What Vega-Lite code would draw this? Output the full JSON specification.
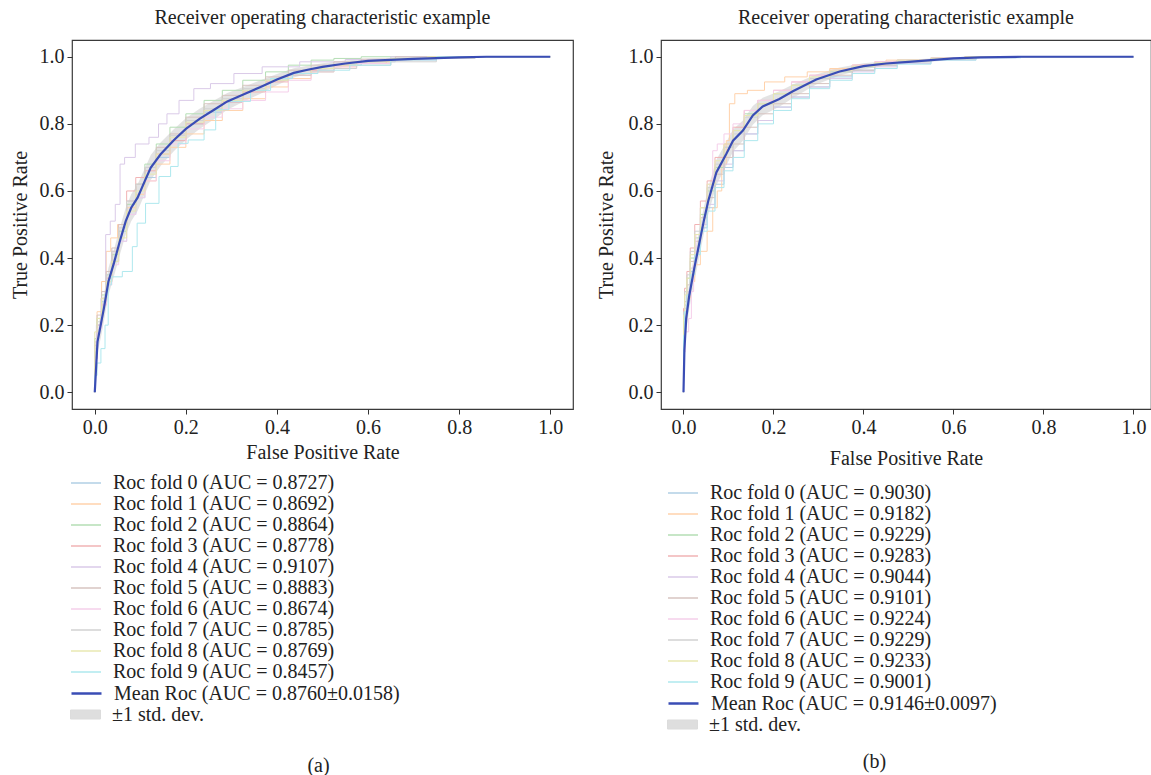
{
"$schema": "https://vega.github.io/schema/vega-lite/v6.json",
"autosize": {"type": "none"},
"padding": {"left": 72, "top": 40, "right": 1079, "bottom": 735},
"config": {
  "font": "Liberation Serif",
  "view": {"stroke": "#3a3a3a", "strokeWidth": 1.2},
  "axis": {"domain": false, "grid": false, "tickColor": "#333", "tickSize": 5, "labelFontSize": 20, "labelColor": "#222", "labelFont": "Liberation Serif", "titleFont": "Liberation Serif", "titleFontSize": 20, "titleFontWeight": "normal", "titleColor": "#222", "labelPadding": 3},
  "title": {"font": "Liberation Serif", "fontSize": 20, "fontWeight": "normal", "color": "#222"},
  "legend": {"labelFont": "Liberation Serif", "labelFontSize": 20, "labelColor": "#222", "labelLimit": 500}
},
"datasets": {
  "foldsA": [
    {"s":"Roc fold 0 (AUC = 0.8727)","x":0,"y":0},{"s":"Roc fold 0 (AUC = 0.8727)","x":0,"y":0.12},{"s":"Roc fold 0 (AUC = 0.8727)","x":0.01,"y":0.2},{"s":"Roc fold 0 (AUC = 0.8727)","x":0.02,"y":0.27},{"s":"Roc fold 0 (AUC = 0.8727)","x":0.03,"y":0.33},{"s":"Roc fold 0 (AUC = 0.8727)","x":0.045,"y":0.39},{"s":"Roc fold 0 (AUC = 0.8727)","x":0.06,"y":0.45},{"s":"Roc fold 0 (AUC = 0.8727)","x":0.08,"y":0.53},{"s":"Roc fold 0 (AUC = 0.8727)","x":0.1,"y":0.58},{"s":"Roc fold 0 (AUC = 0.8727)","x":0.12,"y":0.64},{"s":"Roc fold 0 (AUC = 0.8727)","x":0.15,"y":0.7},{"s":"Roc fold 0 (AUC = 0.8727)","x":0.18,"y":0.75},{"s":"Roc fold 0 (AUC = 0.8727)","x":0.22,"y":0.8},{"s":"Roc fold 0 (AUC = 0.8727)","x":0.26,"y":0.835},{"s":"Roc fold 0 (AUC = 0.8727)","x":0.3,"y":0.865},{"s":"Roc fold 0 (AUC = 0.8727)","x":0.35,"y":0.9},{"s":"Roc fold 0 (AUC = 0.8727)","x":0.4,"y":0.93},{"s":"Roc fold 0 (AUC = 0.8727)","x":0.45,"y":0.95},{"s":"Roc fold 0 (AUC = 0.8727)","x":0.5,"y":0.965},{"s":"Roc fold 0 (AUC = 0.8727)","x":0.55,"y":0.975},{"s":"Roc fold 0 (AUC = 0.8727)","x":0.62,"y":0.985},{"s":"Roc fold 0 (AUC = 0.8727)","x":0.7,"y":0.993},{"s":"Roc fold 0 (AUC = 0.8727)","x":0.8,"y":1},{"s":"Roc fold 0 (AUC = 0.8727)","x":1,"y":1},
    {"s":"Roc fold 1 (AUC = 0.8692)","x":0,"y":0},{"s":"Roc fold 1 (AUC = 0.8692)","x":0,"y":0.15},{"s":"Roc fold 1 (AUC = 0.8692)","x":0.01,"y":0.24},{"s":"Roc fold 1 (AUC = 0.8692)","x":0.02,"y":0.33},{"s":"Roc fold 1 (AUC = 0.8692)","x":0.03,"y":0.42},{"s":"Roc fold 1 (AUC = 0.8692)","x":0.04,"y":0.46},{"s":"Roc fold 1 (AUC = 0.8692)","x":0.06,"y":0.5},{"s":"Roc fold 1 (AUC = 0.8692)","x":0.08,"y":0.55},{"s":"Roc fold 1 (AUC = 0.8692)","x":0.1,"y":0.59},{"s":"Roc fold 1 (AUC = 0.8692)","x":0.12,"y":0.63},{"s":"Roc fold 1 (AUC = 0.8692)","x":0.15,"y":0.68},{"s":"Roc fold 1 (AUC = 0.8692)","x":0.18,"y":0.73},{"s":"Roc fold 1 (AUC = 0.8692)","x":0.22,"y":0.77},{"s":"Roc fold 1 (AUC = 0.8692)","x":0.26,"y":0.81},{"s":"Roc fold 1 (AUC = 0.8692)","x":0.3,"y":0.84},{"s":"Roc fold 1 (AUC = 0.8692)","x":0.35,"y":0.875},{"s":"Roc fold 1 (AUC = 0.8692)","x":0.4,"y":0.91},{"s":"Roc fold 1 (AUC = 0.8692)","x":0.45,"y":0.935},{"s":"Roc fold 1 (AUC = 0.8692)","x":0.5,"y":0.955},{"s":"Roc fold 1 (AUC = 0.8692)","x":0.55,"y":0.97},{"s":"Roc fold 1 (AUC = 0.8692)","x":0.6,"y":0.98},{"s":"Roc fold 1 (AUC = 0.8692)","x":0.68,"y":0.99},{"s":"Roc fold 1 (AUC = 0.8692)","x":0.75,"y":1},{"s":"Roc fold 1 (AUC = 0.8692)","x":1,"y":1},
    {"s":"Roc fold 2 (AUC = 0.8864)","x":0,"y":0},{"s":"Roc fold 2 (AUC = 0.8864)","x":0,"y":0.16},{"s":"Roc fold 2 (AUC = 0.8864)","x":0.01,"y":0.22},{"s":"Roc fold 2 (AUC = 0.8864)","x":0.02,"y":0.29},{"s":"Roc fold 2 (AUC = 0.8864)","x":0.03,"y":0.35},{"s":"Roc fold 2 (AUC = 0.8864)","x":0.045,"y":0.41},{"s":"Roc fold 2 (AUC = 0.8864)","x":0.06,"y":0.48},{"s":"Roc fold 2 (AUC = 0.8864)","x":0.08,"y":0.56},{"s":"Roc fold 2 (AUC = 0.8864)","x":0.1,"y":0.62},{"s":"Roc fold 2 (AUC = 0.8864)","x":0.12,"y":0.68},{"s":"Roc fold 2 (AUC = 0.8864)","x":0.15,"y":0.74},{"s":"Roc fold 2 (AUC = 0.8864)","x":0.18,"y":0.79},{"s":"Roc fold 2 (AUC = 0.8864)","x":0.22,"y":0.83},{"s":"Roc fold 2 (AUC = 0.8864)","x":0.26,"y":0.87},{"s":"Roc fold 2 (AUC = 0.8864)","x":0.3,"y":0.9},{"s":"Roc fold 2 (AUC = 0.8864)","x":0.35,"y":0.93},{"s":"Roc fold 2 (AUC = 0.8864)","x":0.4,"y":0.955},{"s":"Roc fold 2 (AUC = 0.8864)","x":0.45,"y":0.975},{"s":"Roc fold 2 (AUC = 0.8864)","x":0.5,"y":0.99},{"s":"Roc fold 2 (AUC = 0.8864)","x":0.55,"y":0.995},{"s":"Roc fold 2 (AUC = 0.8864)","x":0.62,"y":1},{"s":"Roc fold 2 (AUC = 0.8864)","x":1,"y":1},
    {"s":"Roc fold 3 (AUC = 0.8778)","x":0,"y":0},{"s":"Roc fold 3 (AUC = 0.8778)","x":0,"y":0.1},{"s":"Roc fold 3 (AUC = 0.8778)","x":0.01,"y":0.2},{"s":"Roc fold 3 (AUC = 0.8778)","x":0.02,"y":0.26},{"s":"Roc fold 3 (AUC = 0.8778)","x":0.03,"y":0.34},{"s":"Roc fold 3 (AUC = 0.8778)","x":0.045,"y":0.42},{"s":"Roc fold 3 (AUC = 0.8778)","x":0.06,"y":0.5},{"s":"Roc fold 3 (AUC = 0.8778)","x":0.08,"y":0.6},{"s":"Roc fold 3 (AUC = 0.8778)","x":0.1,"y":0.64},{"s":"Roc fold 3 (AUC = 0.8778)","x":0.12,"y":0.66},{"s":"Roc fold 3 (AUC = 0.8778)","x":0.15,"y":0.71},{"s":"Roc fold 3 (AUC = 0.8778)","x":0.18,"y":0.75},{"s":"Roc fold 3 (AUC = 0.8778)","x":0.22,"y":0.8},{"s":"Roc fold 3 (AUC = 0.8778)","x":0.26,"y":0.84},{"s":"Roc fold 3 (AUC = 0.8778)","x":0.3,"y":0.865},{"s":"Roc fold 3 (AUC = 0.8778)","x":0.35,"y":0.895},{"s":"Roc fold 3 (AUC = 0.8778)","x":0.4,"y":0.925},{"s":"Roc fold 3 (AUC = 0.8778)","x":0.45,"y":0.945},{"s":"Roc fold 3 (AUC = 0.8778)","x":0.5,"y":0.96},{"s":"Roc fold 3 (AUC = 0.8778)","x":0.55,"y":0.975},{"s":"Roc fold 3 (AUC = 0.8778)","x":0.6,"y":0.985},{"s":"Roc fold 3 (AUC = 0.8778)","x":0.7,"y":0.995},{"s":"Roc fold 3 (AUC = 0.8778)","x":0.78,"y":1},{"s":"Roc fold 3 (AUC = 0.8778)","x":1,"y":1},
    {"s":"Roc fold 4 (AUC = 0.9107)","x":0,"y":0},{"s":"Roc fold 4 (AUC = 0.9107)","x":0,"y":0.15},{"s":"Roc fold 4 (AUC = 0.9107)","x":0.007,"y":0.2},{"s":"Roc fold 4 (AUC = 0.9107)","x":0.02,"y":0.28},{"s":"Roc fold 4 (AUC = 0.9107)","x":0.028,"y":0.47},{"s":"Roc fold 4 (AUC = 0.9107)","x":0.04,"y":0.51},{"s":"Roc fold 4 (AUC = 0.9107)","x":0.05,"y":0.56},{"s":"Roc fold 4 (AUC = 0.9107)","x":0.061,"y":0.68},{"s":"Roc fold 4 (AUC = 0.9107)","x":0.07,"y":0.7},{"s":"Roc fold 4 (AUC = 0.9107)","x":0.108,"y":0.74},{"s":"Roc fold 4 (AUC = 0.9107)","x":0.13,"y":0.76},{"s":"Roc fold 4 (AUC = 0.9107)","x":0.15,"y":0.8},{"s":"Roc fold 4 (AUC = 0.9107)","x":0.167,"y":0.83},{"s":"Roc fold 4 (AUC = 0.9107)","x":0.203,"y":0.87},{"s":"Roc fold 4 (AUC = 0.9107)","x":0.232,"y":0.905},{"s":"Roc fold 4 (AUC = 0.9107)","x":0.276,"y":0.92},{"s":"Roc fold 4 (AUC = 0.9107)","x":0.335,"y":0.95},{"s":"Roc fold 4 (AUC = 0.9107)","x":0.4,"y":0.97},{"s":"Roc fold 4 (AUC = 0.9107)","x":0.5,"y":0.985},{"s":"Roc fold 4 (AUC = 0.9107)","x":0.6,"y":0.992},{"s":"Roc fold 4 (AUC = 0.9107)","x":0.7,"y":1},{"s":"Roc fold 4 (AUC = 0.9107)","x":1,"y":1},
    {"s":"Roc fold 5 (AUC = 0.8883)","x":0,"y":0},{"s":"Roc fold 5 (AUC = 0.8883)","x":0,"y":0.14},{"s":"Roc fold 5 (AUC = 0.8883)","x":0.01,"y":0.23},{"s":"Roc fold 5 (AUC = 0.8883)","x":0.02,"y":0.3},{"s":"Roc fold 5 (AUC = 0.8883)","x":0.03,"y":0.36},{"s":"Roc fold 5 (AUC = 0.8883)","x":0.045,"y":0.43},{"s":"Roc fold 5 (AUC = 0.8883)","x":0.06,"y":0.5},{"s":"Roc fold 5 (AUC = 0.8883)","x":0.08,"y":0.57},{"s":"Roc fold 5 (AUC = 0.8883)","x":0.1,"y":0.62},{"s":"Roc fold 5 (AUC = 0.8883)","x":0.12,"y":0.67},{"s":"Roc fold 5 (AUC = 0.8883)","x":0.15,"y":0.73},{"s":"Roc fold 5 (AUC = 0.8883)","x":0.18,"y":0.77},{"s":"Roc fold 5 (AUC = 0.8883)","x":0.22,"y":0.82},{"s":"Roc fold 5 (AUC = 0.8883)","x":0.26,"y":0.86},{"s":"Roc fold 5 (AUC = 0.8883)","x":0.3,"y":0.885},{"s":"Roc fold 5 (AUC = 0.8883)","x":0.35,"y":0.915},{"s":"Roc fold 5 (AUC = 0.8883)","x":0.4,"y":0.94},{"s":"Roc fold 5 (AUC = 0.8883)","x":0.45,"y":0.96},{"s":"Roc fold 5 (AUC = 0.8883)","x":0.5,"y":0.975},{"s":"Roc fold 5 (AUC = 0.8883)","x":0.55,"y":0.985},{"s":"Roc fold 5 (AUC = 0.8883)","x":0.62,"y":0.993},{"s":"Roc fold 5 (AUC = 0.8883)","x":0.7,"y":1},{"s":"Roc fold 5 (AUC = 0.8883)","x":1,"y":1},
    {"s":"Roc fold 6 (AUC = 0.8674)","x":0,"y":0},{"s":"Roc fold 6 (AUC = 0.8674)","x":0,"y":0.1},{"s":"Roc fold 6 (AUC = 0.8674)","x":0.01,"y":0.19},{"s":"Roc fold 6 (AUC = 0.8674)","x":0.02,"y":0.26},{"s":"Roc fold 6 (AUC = 0.8674)","x":0.03,"y":0.32},{"s":"Roc fold 6 (AUC = 0.8674)","x":0.045,"y":0.38},{"s":"Roc fold 6 (AUC = 0.8674)","x":0.06,"y":0.45},{"s":"Roc fold 6 (AUC = 0.8674)","x":0.08,"y":0.53},{"s":"Roc fold 6 (AUC = 0.8674)","x":0.1,"y":0.58},{"s":"Roc fold 6 (AUC = 0.8674)","x":0.12,"y":0.63},{"s":"Roc fold 6 (AUC = 0.8674)","x":0.15,"y":0.69},{"s":"Roc fold 6 (AUC = 0.8674)","x":0.18,"y":0.74},{"s":"Roc fold 6 (AUC = 0.8674)","x":0.22,"y":0.785},{"s":"Roc fold 6 (AUC = 0.8674)","x":0.26,"y":0.82},{"s":"Roc fold 6 (AUC = 0.8674)","x":0.3,"y":0.845},{"s":"Roc fold 6 (AUC = 0.8674)","x":0.35,"y":0.87},{"s":"Roc fold 6 (AUC = 0.8674)","x":0.4,"y":0.895},{"s":"Roc fold 6 (AUC = 0.8674)","x":0.45,"y":0.93},{"s":"Roc fold 6 (AUC = 0.8674)","x":0.5,"y":0.955},{"s":"Roc fold 6 (AUC = 0.8674)","x":0.55,"y":0.97},{"s":"Roc fold 6 (AUC = 0.8674)","x":0.6,"y":0.98},{"s":"Roc fold 6 (AUC = 0.8674)","x":0.7,"y":0.99},{"s":"Roc fold 6 (AUC = 0.8674)","x":0.8,"y":1},{"s":"Roc fold 6 (AUC = 0.8674)","x":1,"y":1},
    {"s":"Roc fold 7 (AUC = 0.8785)","x":0,"y":0},{"s":"Roc fold 7 (AUC = 0.8785)","x":0,"y":0.13},{"s":"Roc fold 7 (AUC = 0.8785)","x":0.01,"y":0.21},{"s":"Roc fold 7 (AUC = 0.8785)","x":0.02,"y":0.28},{"s":"Roc fold 7 (AUC = 0.8785)","x":0.03,"y":0.35},{"s":"Roc fold 7 (AUC = 0.8785)","x":0.045,"y":0.42},{"s":"Roc fold 7 (AUC = 0.8785)","x":0.06,"y":0.49},{"s":"Roc fold 7 (AUC = 0.8785)","x":0.08,"y":0.57},{"s":"Roc fold 7 (AUC = 0.8785)","x":0.1,"y":0.62},{"s":"Roc fold 7 (AUC = 0.8785)","x":0.12,"y":0.67},{"s":"Roc fold 7 (AUC = 0.8785)","x":0.15,"y":0.72},{"s":"Roc fold 7 (AUC = 0.8785)","x":0.18,"y":0.765},{"s":"Roc fold 7 (AUC = 0.8785)","x":0.22,"y":0.81},{"s":"Roc fold 7 (AUC = 0.8785)","x":0.26,"y":0.845},{"s":"Roc fold 7 (AUC = 0.8785)","x":0.3,"y":0.875},{"s":"Roc fold 7 (AUC = 0.8785)","x":0.35,"y":0.905},{"s":"Roc fold 7 (AUC = 0.8785)","x":0.4,"y":0.93},{"s":"Roc fold 7 (AUC = 0.8785)","x":0.45,"y":0.945},{"s":"Roc fold 7 (AUC = 0.8785)","x":0.5,"y":0.955},{"s":"Roc fold 7 (AUC = 0.8785)","x":0.55,"y":0.965},{"s":"Roc fold 7 (AUC = 0.8785)","x":0.6,"y":0.975},{"s":"Roc fold 7 (AUC = 0.8785)","x":0.7,"y":0.985},{"s":"Roc fold 7 (AUC = 0.8785)","x":0.8,"y":0.995},{"s":"Roc fold 7 (AUC = 0.8785)","x":0.87,"y":1},{"s":"Roc fold 7 (AUC = 0.8785)","x":1,"y":1},
    {"s":"Roc fold 8 (AUC = 0.8769)","x":0,"y":0},{"s":"Roc fold 8 (AUC = 0.8769)","x":0,"y":0.18},{"s":"Roc fold 8 (AUC = 0.8769)","x":0.01,"y":0.22},{"s":"Roc fold 8 (AUC = 0.8769)","x":0.02,"y":0.28},{"s":"Roc fold 8 (AUC = 0.8769)","x":0.03,"y":0.33},{"s":"Roc fold 8 (AUC = 0.8769)","x":0.045,"y":0.39},{"s":"Roc fold 8 (AUC = 0.8769)","x":0.06,"y":0.46},{"s":"Roc fold 8 (AUC = 0.8769)","x":0.08,"y":0.54},{"s":"Roc fold 8 (AUC = 0.8769)","x":0.1,"y":0.6},{"s":"Roc fold 8 (AUC = 0.8769)","x":0.12,"y":0.65},{"s":"Roc fold 8 (AUC = 0.8769)","x":0.15,"y":0.71},{"s":"Roc fold 8 (AUC = 0.8769)","x":0.18,"y":0.76},{"s":"Roc fold 8 (AUC = 0.8769)","x":0.22,"y":0.805},{"s":"Roc fold 8 (AUC = 0.8769)","x":0.26,"y":0.84},{"s":"Roc fold 8 (AUC = 0.8769)","x":0.3,"y":0.87},{"s":"Roc fold 8 (AUC = 0.8769)","x":0.35,"y":0.9},{"s":"Roc fold 8 (AUC = 0.8769)","x":0.4,"y":0.93},{"s":"Roc fold 8 (AUC = 0.8769)","x":0.45,"y":0.95},{"s":"Roc fold 8 (AUC = 0.8769)","x":0.5,"y":0.965},{"s":"Roc fold 8 (AUC = 0.8769)","x":0.55,"y":0.975},{"s":"Roc fold 8 (AUC = 0.8769)","x":0.6,"y":0.985},{"s":"Roc fold 8 (AUC = 0.8769)","x":0.7,"y":0.995},{"s":"Roc fold 8 (AUC = 0.8769)","x":0.76,"y":1},{"s":"Roc fold 8 (AUC = 0.8769)","x":1,"y":1},
    {"s":"Roc fold 9 (AUC = 0.8457)","x":0,"y":0},{"s":"Roc fold 9 (AUC = 0.8457)","x":0,"y":0.05},{"s":"Roc fold 9 (AUC = 0.8457)","x":0.01,"y":0.087},{"s":"Roc fold 9 (AUC = 0.8457)","x":0.017,"y":0.13},{"s":"Roc fold 9 (AUC = 0.8457)","x":0.028,"y":0.2},{"s":"Roc fold 9 (AUC = 0.8457)","x":0.031,"y":0.32},{"s":"Roc fold 9 (AUC = 0.8457)","x":0.042,"y":0.344},{"s":"Roc fold 9 (AUC = 0.8457)","x":0.079,"y":0.36},{"s":"Roc fold 9 (AUC = 0.8457)","x":0.086,"y":0.434},{"s":"Roc fold 9 (AUC = 0.8457)","x":0.1,"y":0.504},{"s":"Roc fold 9 (AUC = 0.8457)","x":0.123,"y":0.563},{"s":"Roc fold 9 (AUC = 0.8457)","x":0.159,"y":0.643},{"s":"Roc fold 9 (AUC = 0.8457)","x":0.174,"y":0.673},{"s":"Roc fold 9 (AUC = 0.8457)","x":0.192,"y":0.742},{"s":"Roc fold 9 (AUC = 0.8457)","x":0.218,"y":0.752},{"s":"Roc fold 9 (AUC = 0.8457)","x":0.262,"y":0.782},{"s":"Roc fold 9 (AUC = 0.8457)","x":0.269,"y":0.842},{"s":"Roc fold 9 (AUC = 0.8457)","x":0.32,"y":0.867},{"s":"Roc fold 9 (AUC = 0.8457)","x":0.364,"y":0.9},{"s":"Roc fold 9 (AUC = 0.8457)","x":0.408,"y":0.935},{"s":"Roc fold 9 (AUC = 0.8457)","x":0.46,"y":0.95},{"s":"Roc fold 9 (AUC = 0.8457)","x":0.52,"y":0.96},{"s":"Roc fold 9 (AUC = 0.8457)","x":0.6,"y":0.975},{"s":"Roc fold 9 (AUC = 0.8457)","x":0.7,"y":0.99},{"s":"Roc fold 9 (AUC = 0.8457)","x":0.8,"y":1},{"s":"Roc fold 9 (AUC = 0.8457)","x":1,"y":1}
  ],
  "meanA": [
    {"x":0,"m":0,"lo":0,"hi":0},{"x":0.006,"m":0.15,"lo":0.12,"hi":0.18},{"x":0.013,"m":0.2,"lo":0.16,"hi":0.24},{"x":0.02,"m":0.25,"lo":0.21,"hi":0.29},{"x":0.03,"m":0.33,"lo":0.29,"hi":0.37},{"x":0.042,"m":0.385,"lo":0.345,"hi":0.425},{"x":0.055,"m":0.45,"lo":0.41,"hi":0.49},{"x":0.068,"m":0.51,"lo":0.47,"hi":0.55},{"x":0.08,"m":0.55,"lo":0.51,"hi":0.59},{"x":0.094,"m":0.58,"lo":0.54,"hi":0.62},{"x":0.11,"m":0.63,"lo":0.592,"hi":0.668},{"x":0.123,"m":0.67,"lo":0.633,"hi":0.707},{"x":0.145,"m":0.71,"lo":0.675,"hi":0.745},{"x":0.174,"m":0.752,"lo":0.719,"hi":0.785},{"x":0.2,"m":0.785,"lo":0.753,"hi":0.817},{"x":0.23,"m":0.815,"lo":0.785,"hi":0.845},{"x":0.262,"m":0.842,"lo":0.814,"hi":0.87},{"x":0.291,"m":0.867,"lo":0.842,"hi":0.892},{"x":0.33,"m":0.89,"lo":0.868,"hi":0.912},{"x":0.364,"m":0.91,"lo":0.89,"hi":0.93},{"x":0.4,"m":0.932,"lo":0.915,"hi":0.949},{"x":0.437,"m":0.952,"lo":0.938,"hi":0.966},{"x":0.47,"m":0.962,"lo":0.95,"hi":0.974},{"x":0.5,"m":0.97,"lo":0.959,"hi":0.981},{"x":0.55,"m":0.98,"lo":0.971,"hi":0.989},{"x":0.6,"m":0.988,"lo":0.982,"hi":0.994},{"x":0.65,"m":0.991,"lo":0.986,"hi":0.996},{"x":0.7,"m":0.994,"lo":0.99,"hi":0.998},{"x":0.75,"m":0.996,"lo":0.993,"hi":0.999},{"x":0.8,"m":0.998,"lo":0.996,"hi":1},{"x":0.86,"m":1,"lo":1,"hi":1},{"x":1,"m":1,"lo":1,"hi":1}
  ],
  "foldsB": [
    {"s":"Roc fold 0 (AUC = 0.9030)","x":0,"y":0},{"s":"Roc fold 0 (AUC = 0.9030)","x":0,"y":0.2},{"s":"Roc fold 0 (AUC = 0.9030)","x":0.005,"y":0.26},{"s":"Roc fold 0 (AUC = 0.9030)","x":0.01,"y":0.3},{"s":"Roc fold 0 (AUC = 0.9030)","x":0.02,"y":0.36},{"s":"Roc fold 0 (AUC = 0.9030)","x":0.03,"y":0.42},{"s":"Roc fold 0 (AUC = 0.9030)","x":0.045,"y":0.49},{"s":"Roc fold 0 (AUC = 0.9030)","x":0.06,"y":0.55},{"s":"Roc fold 0 (AUC = 0.9030)","x":0.08,"y":0.62},{"s":"Roc fold 0 (AUC = 0.9030)","x":0.1,"y":0.67},{"s":"Roc fold 0 (AUC = 0.9030)","x":0.12,"y":0.72},{"s":"Roc fold 0 (AUC = 0.9030)","x":0.15,"y":0.77},{"s":"Roc fold 0 (AUC = 0.9030)","x":0.18,"y":0.81},{"s":"Roc fold 0 (AUC = 0.9030)","x":0.22,"y":0.85},{"s":"Roc fold 0 (AUC = 0.9030)","x":0.26,"y":0.88},{"s":"Roc fold 0 (AUC = 0.9030)","x":0.3,"y":0.91},{"s":"Roc fold 0 (AUC = 0.9030)","x":0.35,"y":0.94},{"s":"Roc fold 0 (AUC = 0.9030)","x":0.4,"y":0.96},{"s":"Roc fold 0 (AUC = 0.9030)","x":0.45,"y":0.975},{"s":"Roc fold 0 (AUC = 0.9030)","x":0.5,"y":0.985},{"s":"Roc fold 0 (AUC = 0.9030)","x":0.6,"y":0.993},{"s":"Roc fold 0 (AUC = 0.9030)","x":0.7,"y":1},{"s":"Roc fold 0 (AUC = 0.9030)","x":1,"y":1},
    {"s":"Roc fold 1 (AUC = 0.9182)","x":0,"y":0},{"s":"Roc fold 1 (AUC = 0.9182)","x":0,"y":0.15},{"s":"Roc fold 1 (AUC = 0.9182)","x":0.005,"y":0.22},{"s":"Roc fold 1 (AUC = 0.9182)","x":0.01,"y":0.28},{"s":"Roc fold 1 (AUC = 0.9182)","x":0.02,"y":0.33},{"s":"Roc fold 1 (AUC = 0.9182)","x":0.03,"y":0.38},{"s":"Roc fold 1 (AUC = 0.9182)","x":0.045,"y":0.42},{"s":"Roc fold 1 (AUC = 0.9182)","x":0.06,"y":0.48},{"s":"Roc fold 1 (AUC = 0.9182)","x":0.07,"y":0.55},{"s":"Roc fold 1 (AUC = 0.9182)","x":0.08,"y":0.6},{"s":"Roc fold 1 (AUC = 0.9182)","x":0.09,"y":0.68},{"s":"Roc fold 1 (AUC = 0.9182)","x":0.1,"y":0.75},{"s":"Roc fold 1 (AUC = 0.9182)","x":0.104,"y":0.86},{"s":"Roc fold 1 (AUC = 0.9182)","x":0.124,"y":0.89},{"s":"Roc fold 1 (AUC = 0.9182)","x":0.16,"y":0.9},{"s":"Roc fold 1 (AUC = 0.9182)","x":0.2,"y":0.925},{"s":"Roc fold 1 (AUC = 0.9182)","x":0.25,"y":0.94},{"s":"Roc fold 1 (AUC = 0.9182)","x":0.3,"y":0.955},{"s":"Roc fold 1 (AUC = 0.9182)","x":0.35,"y":0.965},{"s":"Roc fold 1 (AUC = 0.9182)","x":0.4,"y":0.975},{"s":"Roc fold 1 (AUC = 0.9182)","x":0.5,"y":0.99},{"s":"Roc fold 1 (AUC = 0.9182)","x":0.6,"y":0.995},{"s":"Roc fold 1 (AUC = 0.9182)","x":0.68,"y":1},{"s":"Roc fold 1 (AUC = 0.9182)","x":1,"y":1},
    {"s":"Roc fold 2 (AUC = 0.9229)","x":0,"y":0},{"s":"Roc fold 2 (AUC = 0.9229)","x":0,"y":0.22},{"s":"Roc fold 2 (AUC = 0.9229)","x":0.005,"y":0.3},{"s":"Roc fold 2 (AUC = 0.9229)","x":0.01,"y":0.34},{"s":"Roc fold 2 (AUC = 0.9229)","x":0.02,"y":0.4},{"s":"Roc fold 2 (AUC = 0.9229)","x":0.03,"y":0.46},{"s":"Roc fold 2 (AUC = 0.9229)","x":0.045,"y":0.53},{"s":"Roc fold 2 (AUC = 0.9229)","x":0.06,"y":0.6},{"s":"Roc fold 2 (AUC = 0.9229)","x":0.08,"y":0.67},{"s":"Roc fold 2 (AUC = 0.9229)","x":0.1,"y":0.73},{"s":"Roc fold 2 (AUC = 0.9229)","x":0.12,"y":0.78},{"s":"Roc fold 2 (AUC = 0.9229)","x":0.15,"y":0.83},{"s":"Roc fold 2 (AUC = 0.9229)","x":0.18,"y":0.86},{"s":"Roc fold 2 (AUC = 0.9229)","x":0.22,"y":0.89},{"s":"Roc fold 2 (AUC = 0.9229)","x":0.26,"y":0.915},{"s":"Roc fold 2 (AUC = 0.9229)","x":0.3,"y":0.935},{"s":"Roc fold 2 (AUC = 0.9229)","x":0.35,"y":0.955},{"s":"Roc fold 2 (AUC = 0.9229)","x":0.4,"y":0.97},{"s":"Roc fold 2 (AUC = 0.9229)","x":0.45,"y":0.98},{"s":"Roc fold 2 (AUC = 0.9229)","x":0.5,"y":0.99},{"s":"Roc fold 2 (AUC = 0.9229)","x":0.6,"y":0.997},{"s":"Roc fold 2 (AUC = 0.9229)","x":0.66,"y":1},{"s":"Roc fold 2 (AUC = 0.9229)","x":1,"y":1},
    {"s":"Roc fold 3 (AUC = 0.9283)","x":0,"y":0},{"s":"Roc fold 3 (AUC = 0.9283)","x":0,"y":0.25},{"s":"Roc fold 3 (AUC = 0.9283)","x":0.005,"y":0.31},{"s":"Roc fold 3 (AUC = 0.9283)","x":0.01,"y":0.36},{"s":"Roc fold 3 (AUC = 0.9283)","x":0.02,"y":0.43},{"s":"Roc fold 3 (AUC = 0.9283)","x":0.03,"y":0.5},{"s":"Roc fold 3 (AUC = 0.9283)","x":0.045,"y":0.57},{"s":"Roc fold 3 (AUC = 0.9283)","x":0.06,"y":0.63},{"s":"Roc fold 3 (AUC = 0.9283)","x":0.08,"y":0.7},{"s":"Roc fold 3 (AUC = 0.9283)","x":0.1,"y":0.74},{"s":"Roc fold 3 (AUC = 0.9283)","x":0.12,"y":0.79},{"s":"Roc fold 3 (AUC = 0.9283)","x":0.15,"y":0.84},{"s":"Roc fold 3 (AUC = 0.9283)","x":0.18,"y":0.87},{"s":"Roc fold 3 (AUC = 0.9283)","x":0.22,"y":0.9},{"s":"Roc fold 3 (AUC = 0.9283)","x":0.26,"y":0.925},{"s":"Roc fold 3 (AUC = 0.9283)","x":0.3,"y":0.945},{"s":"Roc fold 3 (AUC = 0.9283)","x":0.35,"y":0.96},{"s":"Roc fold 3 (AUC = 0.9283)","x":0.4,"y":0.975},{"s":"Roc fold 3 (AUC = 0.9283)","x":0.45,"y":0.985},{"s":"Roc fold 3 (AUC = 0.9283)","x":0.5,"y":0.99},{"s":"Roc fold 3 (AUC = 0.9283)","x":0.6,"y":0.997},{"s":"Roc fold 3 (AUC = 0.9283)","x":0.65,"y":1},{"s":"Roc fold 3 (AUC = 0.9283)","x":1,"y":1},
    {"s":"Roc fold 4 (AUC = 0.9044)","x":0,"y":0},{"s":"Roc fold 4 (AUC = 0.9044)","x":0,"y":0.18},{"s":"Roc fold 4 (AUC = 0.9044)","x":0.005,"y":0.25},{"s":"Roc fold 4 (AUC = 0.9044)","x":0.01,"y":0.3},{"s":"Roc fold 4 (AUC = 0.9044)","x":0.02,"y":0.37},{"s":"Roc fold 4 (AUC = 0.9044)","x":0.03,"y":0.43},{"s":"Roc fold 4 (AUC = 0.9044)","x":0.045,"y":0.5},{"s":"Roc fold 4 (AUC = 0.9044)","x":0.06,"y":0.56},{"s":"Roc fold 4 (AUC = 0.9044)","x":0.08,"y":0.63},{"s":"Roc fold 4 (AUC = 0.9044)","x":0.1,"y":0.68},{"s":"Roc fold 4 (AUC = 0.9044)","x":0.12,"y":0.72},{"s":"Roc fold 4 (AUC = 0.9044)","x":0.15,"y":0.77},{"s":"Roc fold 4 (AUC = 0.9044)","x":0.18,"y":0.81},{"s":"Roc fold 4 (AUC = 0.9044)","x":0.22,"y":0.85},{"s":"Roc fold 4 (AUC = 0.9044)","x":0.26,"y":0.88},{"s":"Roc fold 4 (AUC = 0.9044)","x":0.3,"y":0.91},{"s":"Roc fold 4 (AUC = 0.9044)","x":0.35,"y":0.935},{"s":"Roc fold 4 (AUC = 0.9044)","x":0.4,"y":0.955},{"s":"Roc fold 4 (AUC = 0.9044)","x":0.45,"y":0.97},{"s":"Roc fold 4 (AUC = 0.9044)","x":0.5,"y":0.98},{"s":"Roc fold 4 (AUC = 0.9044)","x":0.6,"y":0.99},{"s":"Roc fold 4 (AUC = 0.9044)","x":0.7,"y":0.997},{"s":"Roc fold 4 (AUC = 0.9044)","x":0.78,"y":1},{"s":"Roc fold 4 (AUC = 0.9044)","x":1,"y":1},
    {"s":"Roc fold 5 (AUC = 0.9101)","x":0,"y":0},{"s":"Roc fold 5 (AUC = 0.9101)","x":0,"y":0.2},{"s":"Roc fold 5 (AUC = 0.9101)","x":0.005,"y":0.27},{"s":"Roc fold 5 (AUC = 0.9101)","x":0.01,"y":0.32},{"s":"Roc fold 5 (AUC = 0.9101)","x":0.02,"y":0.39},{"s":"Roc fold 5 (AUC = 0.9101)","x":0.03,"y":0.45},{"s":"Roc fold 5 (AUC = 0.9101)","x":0.045,"y":0.52},{"s":"Roc fold 5 (AUC = 0.9101)","x":0.06,"y":0.58},{"s":"Roc fold 5 (AUC = 0.9101)","x":0.08,"y":0.65},{"s":"Roc fold 5 (AUC = 0.9101)","x":0.1,"y":0.7},{"s":"Roc fold 5 (AUC = 0.9101)","x":0.12,"y":0.74},{"s":"Roc fold 5 (AUC = 0.9101)","x":0.15,"y":0.79},{"s":"Roc fold 5 (AUC = 0.9101)","x":0.18,"y":0.83},{"s":"Roc fold 5 (AUC = 0.9101)","x":0.22,"y":0.86},{"s":"Roc fold 5 (AUC = 0.9101)","x":0.26,"y":0.89},{"s":"Roc fold 5 (AUC = 0.9101)","x":0.3,"y":0.92},{"s":"Roc fold 5 (AUC = 0.9101)","x":0.35,"y":0.945},{"s":"Roc fold 5 (AUC = 0.9101)","x":0.4,"y":0.96},{"s":"Roc fold 5 (AUC = 0.9101)","x":0.45,"y":0.975},{"s":"Roc fold 5 (AUC = 0.9101)","x":0.5,"y":0.985},{"s":"Roc fold 5 (AUC = 0.9101)","x":0.6,"y":0.993},{"s":"Roc fold 5 (AUC = 0.9101)","x":0.7,"y":1},{"s":"Roc fold 5 (AUC = 0.9101)","x":1,"y":1},
    {"s":"Roc fold 6 (AUC = 0.9224)","x":0,"y":0},{"s":"Roc fold 6 (AUC = 0.9224)","x":0,"y":0.12},{"s":"Roc fold 6 (AUC = 0.9224)","x":0.008,"y":0.18},{"s":"Roc fold 6 (AUC = 0.9224)","x":0.015,"y":0.22},{"s":"Roc fold 6 (AUC = 0.9224)","x":0.02,"y":0.3},{"s":"Roc fold 6 (AUC = 0.9224)","x":0.025,"y":0.38},{"s":"Roc fold 6 (AUC = 0.9224)","x":0.03,"y":0.47},{"s":"Roc fold 6 (AUC = 0.9224)","x":0.045,"y":0.55},{"s":"Roc fold 6 (AUC = 0.9224)","x":0.06,"y":0.62},{"s":"Roc fold 6 (AUC = 0.9224)","x":0.07,"y":0.72},{"s":"Roc fold 6 (AUC = 0.9224)","x":0.08,"y":0.74},{"s":"Roc fold 6 (AUC = 0.9224)","x":0.1,"y":0.77},{"s":"Roc fold 6 (AUC = 0.9224)","x":0.12,"y":0.8},{"s":"Roc fold 6 (AUC = 0.9224)","x":0.15,"y":0.84},{"s":"Roc fold 6 (AUC = 0.9224)","x":0.18,"y":0.87},{"s":"Roc fold 6 (AUC = 0.9224)","x":0.22,"y":0.9},{"s":"Roc fold 6 (AUC = 0.9224)","x":0.26,"y":0.925},{"s":"Roc fold 6 (AUC = 0.9224)","x":0.3,"y":0.945},{"s":"Roc fold 6 (AUC = 0.9224)","x":0.35,"y":0.96},{"s":"Roc fold 6 (AUC = 0.9224)","x":0.4,"y":0.975},{"s":"Roc fold 6 (AUC = 0.9224)","x":0.45,"y":0.985},{"s":"Roc fold 6 (AUC = 0.9224)","x":0.5,"y":0.99},{"s":"Roc fold 6 (AUC = 0.9224)","x":0.6,"y":0.997},{"s":"Roc fold 6 (AUC = 0.9224)","x":0.66,"y":1},{"s":"Roc fold 6 (AUC = 0.9224)","x":1,"y":1},
    {"s":"Roc fold 7 (AUC = 0.9229)","x":0,"y":0},{"s":"Roc fold 7 (AUC = 0.9229)","x":0,"y":0.24},{"s":"Roc fold 7 (AUC = 0.9229)","x":0.005,"y":0.3},{"s":"Roc fold 7 (AUC = 0.9229)","x":0.01,"y":0.35},{"s":"Roc fold 7 (AUC = 0.9229)","x":0.02,"y":0.42},{"s":"Roc fold 7 (AUC = 0.9229)","x":0.03,"y":0.48},{"s":"Roc fold 7 (AUC = 0.9229)","x":0.045,"y":0.55},{"s":"Roc fold 7 (AUC = 0.9229)","x":0.06,"y":0.61},{"s":"Roc fold 7 (AUC = 0.9229)","x":0.08,"y":0.68},{"s":"Roc fold 7 (AUC = 0.9229)","x":0.1,"y":0.73},{"s":"Roc fold 7 (AUC = 0.9229)","x":0.12,"y":0.77},{"s":"Roc fold 7 (AUC = 0.9229)","x":0.15,"y":0.82},{"s":"Roc fold 7 (AUC = 0.9229)","x":0.18,"y":0.86},{"s":"Roc fold 7 (AUC = 0.9229)","x":0.22,"y":0.89},{"s":"Roc fold 7 (AUC = 0.9229)","x":0.26,"y":0.915},{"s":"Roc fold 7 (AUC = 0.9229)","x":0.3,"y":0.935},{"s":"Roc fold 7 (AUC = 0.9229)","x":0.35,"y":0.955},{"s":"Roc fold 7 (AUC = 0.9229)","x":0.4,"y":0.97},{"s":"Roc fold 7 (AUC = 0.9229)","x":0.45,"y":0.98},{"s":"Roc fold 7 (AUC = 0.9229)","x":0.5,"y":0.988},{"s":"Roc fold 7 (AUC = 0.9229)","x":0.6,"y":0.995},{"s":"Roc fold 7 (AUC = 0.9229)","x":0.68,"y":1},{"s":"Roc fold 7 (AUC = 0.9229)","x":1,"y":1},
    {"s":"Roc fold 8 (AUC = 0.9233)","x":0,"y":0},{"s":"Roc fold 8 (AUC = 0.9233)","x":0,"y":0.23},{"s":"Roc fold 8 (AUC = 0.9233)","x":0.005,"y":0.29},{"s":"Roc fold 8 (AUC = 0.9233)","x":0.01,"y":0.34},{"s":"Roc fold 8 (AUC = 0.9233)","x":0.02,"y":0.41},{"s":"Roc fold 8 (AUC = 0.9233)","x":0.03,"y":0.47},{"s":"Roc fold 8 (AUC = 0.9233)","x":0.045,"y":0.55},{"s":"Roc fold 8 (AUC = 0.9233)","x":0.06,"y":0.62},{"s":"Roc fold 8 (AUC = 0.9233)","x":0.08,"y":0.69},{"s":"Roc fold 8 (AUC = 0.9233)","x":0.1,"y":0.74},{"s":"Roc fold 8 (AUC = 0.9233)","x":0.12,"y":0.78},{"s":"Roc fold 8 (AUC = 0.9233)","x":0.15,"y":0.825},{"s":"Roc fold 8 (AUC = 0.9233)","x":0.18,"y":0.86},{"s":"Roc fold 8 (AUC = 0.9233)","x":0.22,"y":0.89},{"s":"Roc fold 8 (AUC = 0.9233)","x":0.26,"y":0.915},{"s":"Roc fold 8 (AUC = 0.9233)","x":0.3,"y":0.94},{"s":"Roc fold 8 (AUC = 0.9233)","x":0.35,"y":0.96},{"s":"Roc fold 8 (AUC = 0.9233)","x":0.4,"y":0.972},{"s":"Roc fold 8 (AUC = 0.9233)","x":0.45,"y":0.982},{"s":"Roc fold 8 (AUC = 0.9233)","x":0.5,"y":0.99},{"s":"Roc fold 8 (AUC = 0.9233)","x":0.6,"y":0.996},{"s":"Roc fold 8 (AUC = 0.9233)","x":0.65,"y":1},{"s":"Roc fold 8 (AUC = 0.9233)","x":1,"y":1},
    {"s":"Roc fold 9 (AUC = 0.9001)","x":0,"y":0},{"s":"Roc fold 9 (AUC = 0.9001)","x":0,"y":0.17},{"s":"Roc fold 9 (AUC = 0.9001)","x":0.005,"y":0.24},{"s":"Roc fold 9 (AUC = 0.9001)","x":0.01,"y":0.29},{"s":"Roc fold 9 (AUC = 0.9001)","x":0.02,"y":0.35},{"s":"Roc fold 9 (AUC = 0.9001)","x":0.03,"y":0.41},{"s":"Roc fold 9 (AUC = 0.9001)","x":0.045,"y":0.48},{"s":"Roc fold 9 (AUC = 0.9001)","x":0.06,"y":0.54},{"s":"Roc fold 9 (AUC = 0.9001)","x":0.08,"y":0.61},{"s":"Roc fold 9 (AUC = 0.9001)","x":0.1,"y":0.66},{"s":"Roc fold 9 (AUC = 0.9001)","x":0.12,"y":0.7},{"s":"Roc fold 9 (AUC = 0.9001)","x":0.15,"y":0.75},{"s":"Roc fold 9 (AUC = 0.9001)","x":0.18,"y":0.8},{"s":"Roc fold 9 (AUC = 0.9001)","x":0.22,"y":0.84},{"s":"Roc fold 9 (AUC = 0.9001)","x":0.26,"y":0.875},{"s":"Roc fold 9 (AUC = 0.9001)","x":0.3,"y":0.905},{"s":"Roc fold 9 (AUC = 0.9001)","x":0.35,"y":0.93},{"s":"Roc fold 9 (AUC = 0.9001)","x":0.4,"y":0.95},{"s":"Roc fold 9 (AUC = 0.9001)","x":0.45,"y":0.965},{"s":"Roc fold 9 (AUC = 0.9001)","x":0.5,"y":0.978},{"s":"Roc fold 9 (AUC = 0.9001)","x":0.6,"y":0.99},{"s":"Roc fold 9 (AUC = 0.9001)","x":0.7,"y":0.997},{"s":"Roc fold 9 (AUC = 0.9001)","x":0.8,"y":1},{"s":"Roc fold 9 (AUC = 0.9001)","x":1,"y":1}
  ],
  "meanB": [
    {"x":0,"m":0,"lo":0,"hi":0},{"x":0.002,"m":0.125,"lo":0.095,"hi":0.155},{"x":0.006,"m":0.22,"lo":0.18,"hi":0.26},{"x":0.013,"m":0.29,"lo":0.25,"hi":0.33},{"x":0.024,"m":0.37,"lo":0.33,"hi":0.41},{"x":0.036,"m":0.45,"lo":0.41,"hi":0.49},{"x":0.045,"m":0.51,"lo":0.47,"hi":0.55},{"x":0.055,"m":0.57,"lo":0.53,"hi":0.61},{"x":0.073,"m":0.655,"lo":0.617,"hi":0.693},{"x":0.095,"m":0.71,"lo":0.675,"hi":0.745},{"x":0.11,"m":0.75,"lo":0.717,"hi":0.783},{"x":0.132,"m":0.78,"lo":0.75,"hi":0.81},{"x":0.154,"m":0.825,"lo":0.797,"hi":0.853},{"x":0.176,"m":0.852,"lo":0.826,"hi":0.878},{"x":0.213,"m":0.874,"lo":0.851,"hi":0.897},{"x":0.243,"m":0.897,"lo":0.877,"hi":0.917},{"x":0.295,"m":0.932,"lo":0.917,"hi":0.947},{"x":0.347,"m":0.956,"lo":0.944,"hi":0.968},{"x":0.4,"m":0.972,"lo":0.963,"hi":0.981},{"x":0.45,"m":0.98,"lo":0.973,"hi":0.987},{"x":0.5,"m":0.985,"lo":0.979,"hi":0.991},{"x":0.55,"m":0.99,"lo":0.985,"hi":0.995},{"x":0.6,"m":0.995,"lo":0.991,"hi":0.999},{"x":0.66,"m":0.998,"lo":0.996,"hi":1},{"x":0.75,"m":1,"lo":1,"hi":1},{"x":1,"m":1,"lo":1,"hi":1}
  ]
},
"bounds": "flush",
"spacing": 88,
"resolve": {"scale": {"stroke": "independent", "fill": "independent", "color": "independent"}, "legend": {"stroke": "independent", "fill": "independent", "color": "independent"}},
"hconcat": [
  {
    "width": 501, "height": 369,
    "title": {"text": "Receiver operating characteristic example", "offset": 12},
    "resolve": {"axis": {"x": "independent"}},
    "layer": [
      {
        "data": {"name": "meanA"},
        "mark": {"type": "area", "color": "grey", "opacity": 0.22},
        "encoding": {
          "x": {"field": "x", "type": "quantitative", "scale": {"domain": [-0.05, 1.05], "nice": false, "zero": false}, "axis": null},
          "y": {"field": "lo", "type": "quantitative", "scale": {"domain": [-0.05, 1.05], "nice": false, "zero": false}, "axis": {"values": [0, 0.2, 0.4, 0.6, 0.8, 1], "format": ".1f", "title": "True Positive Rate", "titleX": -52, "titleBaseline": "middle"}},
          "y2": {"field": "hi"},
          "fill": {"datum": "±1 std. dev.", "type": "nominal", "scale": {"range": ["grey"]}, "legend": {"orient": "none", "legendX": 3, "legendY": 664, "title": null, "symbolType": "M-1.5,-0.45H1.5V0.45H-1.5Z", "symbolSize": 400, "symbolOpacity": 0.25, "symbolStrokeColor": "#777", "symbolStrokeWidth": 1, "labelOffset": 16, "padding": 0}}
        }
      },
      {
        "data": {"name": "foldsA"},
        "mark": {"type": "line", "interpolate": "step", "strokeWidth": 1},
        "encoding": {
          "x": {"field": "x", "type": "quantitative", "axis": {"values": [0, 0.2, 0.4, 0.6, 0.8, 1], "format": ".1f", "title": "False Positive Rate", "titleY": 43, "titleBaseline": "middle"}},
          "y": {"field": "y", "type": "quantitative"},
          "order": {"value": null},
          "stroke": {"field": "s", "type": "nominal",
            "scale": {"domain": ["Roc fold 0 (AUC = 0.8727)", "Roc fold 1 (AUC = 0.8692)", "Roc fold 2 (AUC = 0.8864)", "Roc fold 3 (AUC = 0.8778)", "Roc fold 4 (AUC = 0.9107)", "Roc fold 5 (AUC = 0.8883)", "Roc fold 6 (AUC = 0.8674)", "Roc fold 7 (AUC = 0.8785)", "Roc fold 8 (AUC = 0.8769)", "Roc fold 9 (AUC = 0.8457)"],
                      "range": ["#b1cfe5", "#ffd2ab", "#b5deb5", "#f1b3b4", "#dacae8", "#d7c4c0", "#f5cfea", "#d2d2d2", "#e8e8b2", "#aee8ee"]},
            "legend": {"orient": "none", "legendX": 3, "legendY": 432, "title": null, "symbolType": "M-1.5,0H1.5", "symbolSize": 400, "symbolStrokeWidth": 1.5, "symbolOpacity": 1, "labelOffset": 16, "rowPadding": 0, "padding": 0}
          }
        }
      },
      {
        "data": {"name": "meanA"},
        "mark": {"type": "line", "strokeWidth": 2.2},
        "encoding": {
          "x": {"field": "x", "type": "quantitative", "axis": {"orient": "bottom", "title": "(a)", "labels": false, "ticks": false, "domain": false, "titleX": 246, "titleY": 356, "titleBaseline": "middle", "titleAlign": "center"}},
          "y": {"field": "m", "type": "quantitative"},
          "order": {"value": null},
          "color": {"datum": "Mean Roc (AUC = 0.8760±0.0158)", "type": "nominal", "scale": {"range": ["#3a4db5"]},
            "legend": {"orient": "none", "legendX": 3, "legendY": 642, "title": null, "symbolType": "M-1.5,0H1.5", "symbolSize": 400, "symbolStrokeWidth": 2.5, "symbolOpacity": 1, "labelOffset": 16, "padding": 0}}
        }
      }
    ]
  },
  {
    "width": 490, "height": 369,
    "title": {"text": "Receiver operating characteristic example", "offset": 12},
    "resolve": {"axis": {"x": "independent"}},
    "layer": [
      {
        "data": {"name": "meanB"},
        "mark": {"type": "area", "color": "grey", "opacity": 0.22},
        "encoding": {
          "x": {"field": "x", "type": "quantitative", "scale": {"domain": [-0.05, 1.0389], "nice": false, "zero": false}, "axis": null},
          "y": {"field": "lo", "type": "quantitative", "scale": {"domain": [-0.05, 1.05], "nice": false, "zero": false}, "axis": {"values": [0, 0.2, 0.4, 0.6, 0.8, 1], "format": ".1f", "title": "True Positive Rate", "titleX": -55, "titleBaseline": "middle"}},
          "y2": {"field": "hi"},
          "fill": {"datum": "±1 std. dev.", "type": "nominal", "scale": {"range": ["grey"]}, "legend": {"orient": "none", "legendX": 11, "legendY": 674, "title": null, "symbolType": "M-1.5,-0.45H1.5V0.45H-1.5Z", "symbolSize": 400, "symbolOpacity": 0.25, "symbolStrokeColor": "#777", "symbolStrokeWidth": 1, "labelOffset": 16, "padding": 0}}
        }
      },
      {
        "data": {"name": "foldsB"},
        "mark": {"type": "line", "interpolate": "step", "strokeWidth": 1},
        "encoding": {
          "x": {"field": "x", "type": "quantitative", "axis": {"values": [0, 0.2, 0.4, 0.6, 0.8, 1], "format": ".1f", "title": "False Positive Rate", "titleY": 49, "titleBaseline": "middle"}},
          "y": {"field": "y", "type": "quantitative"},
          "order": {"value": null},
          "stroke": {"field": "s", "type": "nominal",
            "scale": {"domain": ["Roc fold 0 (AUC = 0.9030)", "Roc fold 1 (AUC = 0.9182)", "Roc fold 2 (AUC = 0.9229)", "Roc fold 3 (AUC = 0.9283)", "Roc fold 4 (AUC = 0.9044)", "Roc fold 5 (AUC = 0.9101)", "Roc fold 6 (AUC = 0.9224)", "Roc fold 7 (AUC = 0.9229)", "Roc fold 8 (AUC = 0.9233)", "Roc fold 9 (AUC = 0.9001)"],
                      "range": ["#b1cfe5", "#ffd2ab", "#b5deb5", "#f1b3b4", "#dacae8", "#d7c4c0", "#f5cfea", "#d2d2d2", "#e8e8b2", "#aee8ee"]},
            "legend": {"orient": "none", "legendX": 11, "legendY": 442, "title": null, "symbolType": "M-1.5,0H1.5", "symbolSize": 400, "symbolStrokeWidth": 1.5, "symbolOpacity": 1, "labelOffset": 16, "rowPadding": 0, "padding": 0}
          }
        }
      },
      {
        "data": {"name": "meanB"},
        "mark": {"type": "line", "strokeWidth": 2.2},
        "encoding": {
          "x": {"field": "x", "type": "quantitative", "axis": {"orient": "bottom", "title": "(b)", "labels": false, "ticks": false, "domain": false, "titleX": 213, "titleY": 352, "titleBaseline": "middle", "titleAlign": "center"}},
          "y": {"field": "m", "type": "quantitative"},
          "order": {"value": null},
          "color": {"datum": "Mean Roc (AUC = 0.9146±0.0097)", "type": "nominal", "scale": {"range": ["#3a4db5"]},
            "legend": {"orient": "none", "legendX": 11, "legendY": 652, "title": null, "symbolType": "M-1.5,0H1.5", "symbolSize": 400, "symbolStrokeWidth": 2.5, "symbolOpacity": 1, "labelOffset": 16, "padding": 0}}
        }
      }
    ]
  }
]
}
